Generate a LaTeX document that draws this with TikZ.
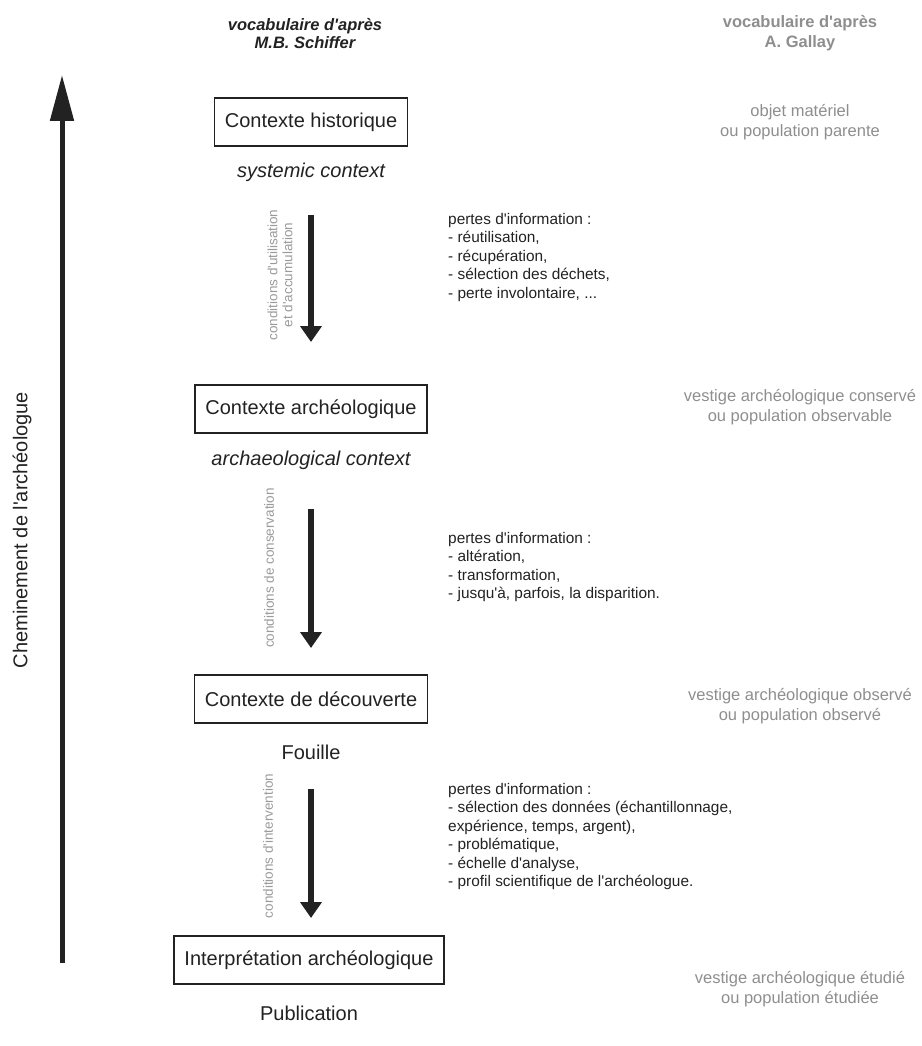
\documentclass[tikz,border=0pt]{standalone}
\usepackage{fontspec}
\setmainfont{Liberation Sans}[Ligatures=TeXOff]
\usetikzlibrary{arrows.meta}
\definecolor{ink}{HTML}{222222}
\definecolor{lightgray}{HTML}{8E8E8E}
\definecolor{rotgray}{HTML}{9A9A9A}
\tikzset{
  ctxbox/.style={draw=ink, line width=1.3pt, text=ink, minimum height=48pt, inner xsep=10.5pt, font=\fontsize{20}{24}\selectfont},
  ctxlabel/.style={text=ink, font=\fontsize{20}{24}\selectfont},
  graylabel/.style={text=lightgray, align=center, font=\fontsize{16.5}{19.5}\selectfont},
  losses/.style={text=ink, align=left, anchor=north west, inner sep=0pt, font=\fontsize{15.4}{18.5}\selectfont},
  condlabel/.style={text=rotgray, align=center, rotate=90, font=\fontsize{13.5}{15}\selectfont},
  downarrow/.style={draw=ink, line width=6pt, -{Triangle[width=21pt,length=16pt]}},
  mainarrow/.style={draw=ink, line width=5pt, -{Triangle[width=23pt,length=46pt]}},
}
\begin{document}
\begin{tikzpicture}[x=1pt,y=-1pt]
\useasboundingbox (0,0) rectangle (921,1046);
% headers
\node[text=ink, align=center, font=\fontsize{16.5}{18}\selectfont\bfseries\itshape] (hleft) at (305,34) {vocabulaire d'après\\M.B. Schiffer};
\node[text=lightgray, align=center, font=\fontsize{16.5}{19.5}\selectfont\bfseries] (hright) at (800,33) {vocabulaire d'après\\A. Gallay};
% main arrow
\coordinate (mbot) at (62,963);
\coordinate (mtop) at (62,75);
\draw[mainarrow] (mbot) -- (mtop);
\node[text=ink, rotate=90, font=\fontsize{20}{24}\selectfont] (chem) at (22,530) {Cheminement de l'archéologue};
% boxes
\node[ctxbox] (b1) at (311,122) {Contexte historique};
\node[ctxlabel, font=\fontsize{20}{24}\selectfont\itshape] (l1) at (311,172) {systemic context};
\node[ctxbox] (b2) at (311,409) {Contexte archéologique};
\node[ctxlabel, font=\fontsize{20}{24}\selectfont\itshape] (l2) at (311,460) {archaeological context};
\node[ctxbox] (b3) at (311,699) {Contexte de découverte};
\node[ctxlabel] (l3) at (311,752) {Fouille};
\node[ctxbox] (b4) at (309,960) {Interprétation archéologique};
\node[ctxlabel] (l4) at (309,1013) {Publication};
% right labels
\node[graylabel] (r1) at (800,122) {objet matériel\\ou population parente};
\node[graylabel] (r2) at (800,407) {vestige archéologique conservé\\ou population observable};
\node[graylabel] (r3) at (800,706) {vestige archéologique observé\\ou population observé};
\node[graylabel] (r4) at (800,989) {vestige archéologique étudié\\ou population étudiée};
% down arrows
\coordinate (a1s) at (311,215);
\coordinate (a1e) at (311,342);
\draw[downarrow] (a1s) -- (a1e);
\coordinate (a2s) at (311,509);
\coordinate (a2e) at (311,648);
\draw[downarrow] (a2s) -- (a2e);
\coordinate (a3s) at (311,789);
\coordinate (a3e) at (311,918);
\draw[downarrow] (a3s) -- (a3e);
% condition labels
\node[condlabel] (c1) at (280,275) {conditions d'utilisation\\et d'accumulation};
\node[condlabel] (c2) at (269,568) {conditions de conservation};
\node[condlabel] (c3) at (268,846) {conditions d'intervention};
% losses
\node[losses] (p1) at (448,213) {pertes d'information :\\- réutilisation,\\- récupération,\\- sélection des déchets,\\- perte involontaire, ...};
\node[losses] (p2) at (448,532) {pertes d'information :\\- altération,\\- transformation,\\- jusqu'à, parfois, la disparition.};
\node[losses] (p3) at (448,783) {pertes d'information :\\- sélection des données (échantillonnage,\\expérience, temps, argent),\\- problématique,\\- échelle d'analyse,\\- profil scientifique de l'archéologue.};
\end{tikzpicture}
\end{document}
